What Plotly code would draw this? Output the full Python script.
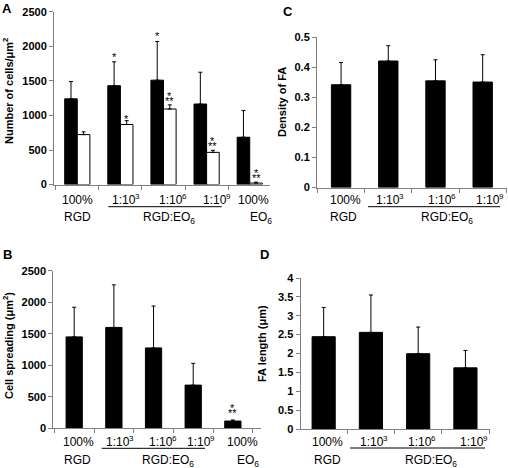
import plotly.graph_objects as go

W, H = 508, 468
FONT = "Arial, Liberation Sans, sans-serif"

# ---------------- data ----------------
# Panel A: number of cells / um2 (black and white series)
a_black = [1240, 1430, 1510, 1165, 685]
a_black_err = [250, 345, 560, 460, 385]
a_white = [723, 869, 1093, 466, 22]
a_white_err = [40, 55, 60, 30, 14]
# Panel B: cell spreading (um2)
b_spread = [1450, 1600, 1275, 685, 115]
b_spread_err = [470, 675, 665, 345, 17]
# Panel C: density of FA
c_density = [0.342, 0.421, 0.355, 0.351]
c_density_err = [0.074, 0.051, 0.070, 0.091]
# Panel D: FA length (um)
d_length = [2.445, 2.56, 1.995, 1.62]
d_length_err = [0.775, 0.99, 0.705, 0.46]

# category labels (first row text + superscript exponent)
labels5 = ["100%", "1:10", "1:10", "1:10", "100%"]
exps5 = ["", "3", "6", "9", ""]
labels4, exps4 = labels5[:4], exps5[:4]
group_label = "RGD:EO<sub>6</sub>"

# stars: (series, category index, text)
a_stars = [("black", 1, "*"), ("black", 2, "*"), ("white", 1, "*"),
           ("white", 2, "**"), ("white", 3, "**"), ("white", 4, "**")]
b_stars = [(4, "**")]


def py(p):
    return 1 - p / H


def px(p):
    return p / W


fig = go.Figure()

wa = 0.292
err_style = dict(type="data", symmetric=False, color="black", thickness=1, width=2)

# Panel A
xa = list(range(len(a_black)))
fig.add_trace(go.Bar(x=xa, y=a_black, width=wa, offset=-wa,
                     marker=dict(color="black", line=dict(color="black", width=1)),
                     error_y=dict(array=a_black_err, arrayminus=[0] * 5, **err_style),
                     xaxis="x", yaxis="y"))
fig.add_trace(go.Bar(x=xa, y=a_white, width=wa, offset=0,
                     marker=dict(color="white", line=dict(color="black", width=1)),
                     error_y=dict(array=a_white_err, arrayminus=[0] * 5, **err_style),
                     xaxis="x", yaxis="y"))
# Panel B
fig.add_trace(go.Bar(x=list(range(5)), y=b_spread, width=0.41,
                     marker=dict(color="black", line=dict(color="black", width=1)),
                     error_y=dict(array=b_spread_err, arrayminus=[0] * 5, **err_style),
                     xaxis="x2", yaxis="y2"))
# Panel C
fig.add_trace(go.Bar(x=list(range(4)), y=c_density, width=0.41,
                     marker=dict(color="black", line=dict(color="black", width=1)),
                     error_y=dict(array=c_density_err, arrayminus=[0] * 4, **err_style),
                     xaxis="x3", yaxis="y3"))
# Panel D
fig.add_trace(go.Bar(x=list(range(4)), y=d_length, width=0.49,
                     marker=dict(color="black", line=dict(color="black", width=1)),
                     error_y=dict(array=d_length_err, arrayminus=[0] * 4, **err_style),
                     xaxis="x4", yaxis="y4"))

AX = "#808080"
tickfont = dict(family=FONT, size=11, color="black", weight="bold")


def xax(domain, rng, n):
    return dict(domain=domain, range=rng, showgrid=False, zeroline=False,
                showline=True, linecolor=AX, linewidth=1,
                tickvals=[i + 0.5 for i in range(-1, n)],
                ticks="outside", ticklen=4, tickcolor=AX, showticklabels=False,
                fixedrange=True)


def yax(domain, rng, dtick, anchor):
    return dict(domain=domain, range=rng, dtick=dtick, showgrid=False, zeroline=False,
                showline=True, linecolor=AX, linewidth=1, ticks="outside",
                ticklen=4, tickcolor=AX, tickfont=tickfont, anchor=anchor,
                fixedrange=True)


fig.update_layout(
    width=W, height=H, margin=dict(l=0, r=0, t=0, b=0, autoexpand=False),
    paper_bgcolor="white", plot_bgcolor="white", showlegend=False,
    barmode="overlay", font=dict(family=FONT, color="black"),
    xaxis=dict(**xax([px(54), px(270)], [-0.54, 4.47], 5), anchor="y"),
    yaxis=yax([py(184.6), py(11.7)], [0, 2500], 500, "x"),
    xaxis2=dict(**xax([px(53.3), px(261)], [-0.527, 4.709], 5), anchor="y2"),
    yaxis2=yax([py(428.3), py(270.7)], [0, 2500], 500, "x2"),
    xaxis3=dict(**xax([px(317), px(507)], [-0.51, 3.515], 4), anchor="y3"),
    yaxis3=yax([py(187.5), py(37.3)], [0, 0.5], 0.1, "x3"),
    xaxis4=dict(**xax([px(300.5), px(490)], [-0.49, 3.52], 4), anchor="y4"),
    yaxis4=yax([py(429), py(278)], [0, 4], 0.5, "x4"),
)

ann = []
shapes = []
BASE_W = 23.4   # approx px width of "1:10" at 12px
SUP_W = 4.5     # approx px width of a digit at 8px


def label_block(l1, e1, x1, y1, l2, x2, y2, line):
    for t, e, xx in zip(l1, e1, x1):
        if e:
            left = xx - (BASE_W + SUP_W) / 2
            ann.append(dict(text=t, x=px(left), y=py(y1), xref="paper", yref="paper",
                            showarrow=False, xanchor="left", yanchor="middle",
                            font=dict(size=12, family=FONT)))
            ann.append(dict(text=e, x=px(left + BASE_W), y=py(y1 - 4), xref="paper",
                            yref="paper", showarrow=False, xanchor="left",
                            yanchor="middle", font=dict(size=8, family=FONT)))
        else:
            ann.append(dict(text=t, x=px(xx), y=py(y1), xref="paper", yref="paper",
                            showarrow=False, xanchor="center", yanchor="middle",
                            font=dict(size=12, family=FONT)))
    for t, xx in zip(l2, x2):
        ann.append(dict(text=t, x=px(xx), y=py(y2), xref="paper", yref="paper",
                        showarrow=False, xanchor="center", yanchor="top",
                        font=dict(size=12, family=FONT)))
    shapes.append(dict(type="line", xref="paper", yref="paper",
                       x0=px(line[0]), x1=px(line[1]), y0=py(line[2]), y1=py(line[2]),
                       line=dict(color="black", width=1)))


label_block(labels5, exps5, [77.5, 123.5, 171, 215, 253.8], 200,
            ["RGD", group_label, "EO<sub>6</sub>"], [77.5, 168.5, 261], 208,
            (108.3, 221.7, 206.7))
label_block(labels5, exps5, [78, 117.5, 161, 199, 242], 442.4,
            ["RGD", group_label, "EO<sub>6</sub>"], [77, 167.5, 248], 450.5,
            (101.7, 205, 448.3))
label_block(labels4, exps4, [345, 388, 440, 488], 200,
            ["RGD", group_label], [343, 447], 208, (368, 500, 206.7))
label_block(labels4, exps4, [327, 372, 420, 472], 442.4,
            ["RGD", group_label], [327, 431], 450.5, (350, 485, 448))

# axis titles
for t, x, y in [("Number of cells/μm<sup>2</sup>", 8, 91),
                ("Cell spreading (μm<sup>2</sup>)", 8, 346),
                ("Density of FA", 282, 102),
                ("FA length (μm)", 262, 344)]:
    ann.append(dict(text=t, x=px(x), y=py(y), xref="paper", yref="paper",
                    showarrow=False, textangle=-90, xanchor="center", yanchor="middle",
                    font=dict(size=11, family=FONT, weight="bold")))

# panel letters
for t, x, y in [("A", 7, 8), ("B", 7, 255), ("C", 288, 11), ("D", 264, 255)]:
    ann.append(dict(text=t, x=px(x), y=py(y), xref="paper", yref="paper",
                    showarrow=False, xanchor="center", yanchor="middle",
                    font=dict(size=13, family=FONT, weight="bold")))


def add_star(text, xref, yref, x, ytop, gap):
    if text == "*":
        parts = [("*", gap)]
    else:
        parts = [("**", gap), ("*", gap + 5)]
    for s, g in parts:
        ann.append(dict(text=s, x=x, y=ytop, xref=xref, yref=yref, showarrow=False,
                        xanchor="center", yanchor="middle", yshift=g - 3,
                        font=dict(size=11, family=FONT)))


for series, i, t in a_stars:
    if series == "black":
        top = a_black[i] + a_black_err[i]
        xc = i - wa / 2
        g = 8
    else:
        top = a_white[i] + a_white_err[i]
        xc = i + wa / 2
        g = 5 if t == "*" else 7
    add_star(t, "x", "y", xc, top, g)

for i, t in b_stars:
    add_star(t, "x2", "y2", i, b_spread[i] + b_spread_err[i], 10)

fig.update_layout(annotations=ann, shapes=shapes)
fig.write_html("out.html", config={"displayModeBar": False, "staticPlot": True},
               post_script="document.body.style.margin='0';document.body.style.padding='0';")
